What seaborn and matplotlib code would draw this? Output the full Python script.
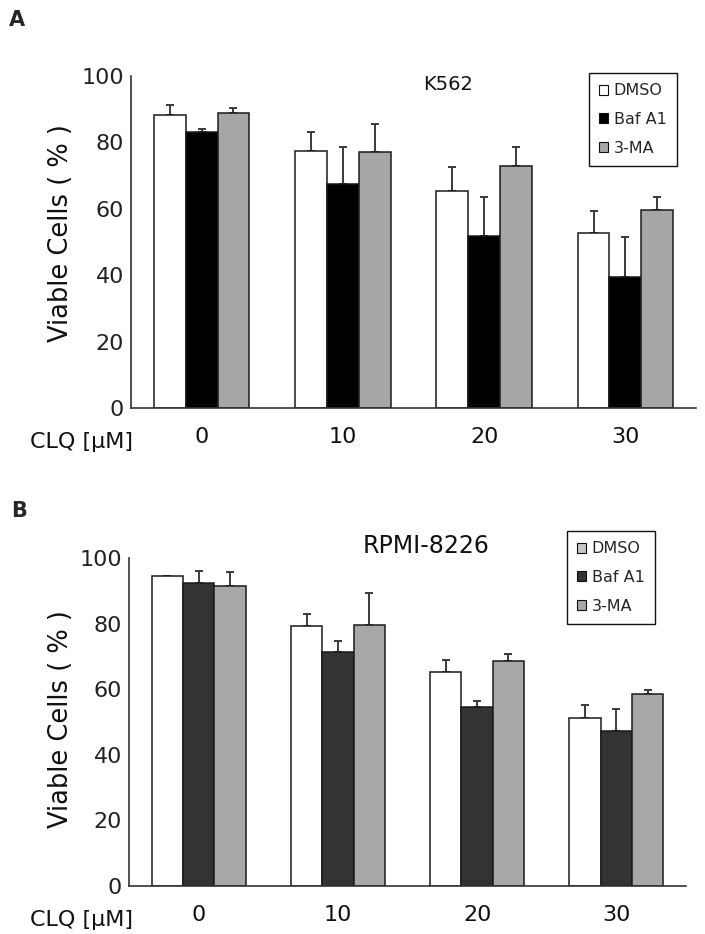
import numpy as np
import pandas as pd
import matplotlib
matplotlib.use("Agg")
import matplotlib.pyplot as plt
import seaborn as sns
from matplotlib.patches import Patch

# ---------------- data ----------------
concentrations = ["0", "10", "20", "30"]
treatments = ["DMSO", "Baf A1", "3-MA"]

k562_dmso = [88.4, 77.5, 65.3, 52.8]
k562_baf = [83.2, 67.6, 51.9, 39.4]
k562_3ma = [88.8, 77.2, 73.0, 59.6]
k562_dmso_err = [3.0, 5.7, 7.3, 6.5]
k562_baf_err = [0.7, 11.0, 11.8, 12.0]
k562_3ma_err = [1.5, 8.3, 5.6, 4.0]

rpmi_dmso = [94.4, 79.4, 65.2, 51.2]
rpmi_baf = [92.4, 71.3, 54.7, 47.3]
rpmi_3ma = [91.4, 79.7, 68.5, 58.4]
rpmi_dmso_err = [0.2, 3.5, 3.8, 4.1]
rpmi_baf_err = [3.5, 3.5, 1.6, 6.7]
rpmi_3ma_err = [4.2, 9.6, 2.1, 1.3]

y_ticks = [0, 20, 40, 60, 80, 100]

# ---------------- style ----------------
sns.set_style("white")
plt.rcParams["font.family"] = ["DejaVu Sans"]

W, H = 705, 934
fig = plt.figure(figsize=(W / 100, H / 100), dpi=100)


def build_df(vals):
    rows = []
    for t, v in zip(treatments, vals):
        for c, x in zip(concentrations, v):
            rows.append({"conc": c, "treatment": t, "value": x})
    return pd.DataFrame(rows)


def panel(rect, vals, errs, colors, leg_colors, title, title_xy, title_size,
          letter, letter_xy, leg_xy, ylab_coords, clq_y):
    ax = fig.add_axes(rect)
    df = build_df(vals)
    sns.barplot(data=df, x="conc", y="value", hue="treatment",
                order=concentrations, hue_order=treatments,
                palette=dict(zip(treatments, colors)), saturation=1,
                width=0.675, errorbar=None, edgecolor="#1a1a1a",
                linewidth=1.1, legend=False, ax=ax, zorder=2)
    for cont, err in zip(ax.containers, errs):
        xs = [b.get_x() + b.get_width() / 2 for b in cont]
        ys = [b.get_height() for b in cont]
        ax.errorbar(xs, ys, yerr=[np.zeros(len(err)), err], fmt="none",
                    ecolor="#3a3a3a", elinewidth=1.4, capsize=3.2,
                    capthick=1.4, zorder=1)
    ax.set_xlim(-0.5, 3.5)
    ax.set_ylim(0, 100)
    ax.set_yticks(y_ticks)
    ax.set_xlabel("")
    ax.set_ylabel("Viable Cells ( % )", fontsize=18.5, color="#111111")
    ax.yaxis.label.set_va("center")
    ax.yaxis.set_label_coords(*ylab_coords)
    ax.tick_params(axis="y", direction="in", length=4, width=1,
                   labelsize=16, pad=5, colors="#222222")
    ax.tick_params(axis="x", which="major", length=0, labelsize=16, pad=14,
                   colors="#111111")
    ax.set_xticks([-0.5, 0.5, 1.5, 2.5, 3.5], minor=True)
    ax.tick_params(axis="x", which="minor", direction="in", length=4,
                   width=1, color="#333333")
    for s in ["top", "right"]:
        ax.spines[s].set_visible(False)
    for s in ["left", "bottom"]:
        ax.spines[s].set_linewidth(1.2)
        ax.spines[s].set_color("#333333")

    fig.text(title_xy[0] / W, 1 - title_xy[1] / H, title, fontsize=title_size,
             ha="center", va="center", color="#111111")
    fig.text(letter_xy[0] / W, 1 - letter_xy[1] / H, letter, fontsize=15,
             fontweight="bold", ha="center", va="center")
    fig.text(133 / W, 1 - clq_y / H, "CLQ [μM]", fontsize=16, ha="right",
             va="baseline", color="#111111")

    handles = [Patch(facecolor=c, edgecolor="#111111", linewidth=0.8)
               for c in leg_colors]
    leg = fig.legend(handles, treatments, loc="upper left",
                     bbox_to_anchor=(leg_xy[0] / W, 1 - leg_xy[1] / H),
                     bbox_transform=fig.transFigure, borderaxespad=0,
                     fontsize=11.5, handlelength=0.55, handleheight=0.55,
                     handletextpad=0.35, labelspacing=0.85, borderpad=0.65,
                     frameon=True, fancybox=False, framealpha=1,
                     edgecolor="#111111")
    leg.get_frame().set_linewidth(1.0)
    return ax


panel([131 / W, 1 - 408 / H, 565 / W, 332 / H],
      [k562_dmso, k562_baf, k562_3ma],
      [k562_dmso_err, k562_baf_err, k562_3ma_err],
      ["#ffffff", "#000000", "#a6a6a6"],
      ["#ffffff", "#000000", "#a6a6a6"],
      "K562", (448, 85), 14, "A", (17, 20), (589, 73), (-0.124, 0.527), 448)

panel([129 / W, 1 - 886 / H, 557 / W, 328 / H],
      [rpmi_dmso, rpmi_baf, rpmi_3ma],
      [rpmi_dmso_err, rpmi_baf_err, rpmi_3ma_err],
      ["#ffffff", "#333333", "#a8a8a8"],
      ["#c8c8c8", "#333333", "#a8a8a8"],
      "RPMI-8226", (426, 546), 17, "B", (19, 511), (567, 531), (-0.122, 0.509), 926)

fig.savefig("out.png", dpi=100)
